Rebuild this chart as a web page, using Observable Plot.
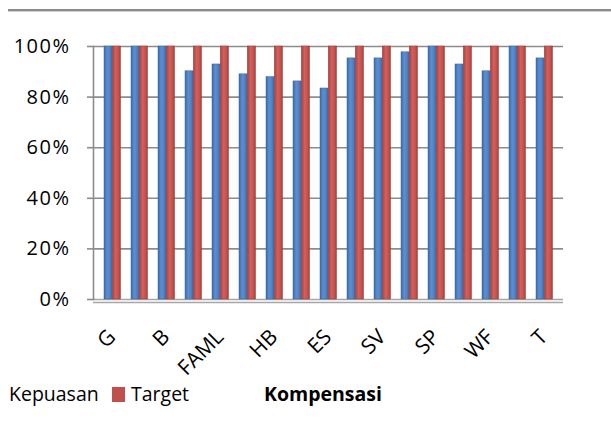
<!DOCTYPE html>
<html>
<head>
<meta charset="utf-8">
<script src="https://cdn.jsdelivr.net/npm/d3@7"></script>
<script src="https://cdn.jsdelivr.net/npm/@observablehq/plot@0.6"></script>
<style>
  html, body { margin: 0; padding: 0; background: #fff; }
  #wrap { position: relative; width: 611px; height: 428px; overflow: hidden; background: #fff; }
  #topline { position: absolute; left: 8px; top: 9px; width: 603px; height: 2px; background: #8a8a8a; border-bottom: 1px solid #d0d0d0; }
  #chart { position: absolute; left: 0; top: 0; }
  #legend { position: absolute; left: 0; top: 380px; width: 611px; height: 48px; font-family: "Open Sans", sans-serif; font-size: 19.5px; line-height: 20px; color: #000; }
  #legend span { position: absolute; top: 4px; white-space: nowrap; }
  #legend .sw { position: absolute; top: 7px; width: 13px; height: 15px; background: #C0504D; }
  .ytick text { letter-spacing: 1.5px; }
</style>
</head>
<body>
<div id="wrap">
  <div id="chart"></div>
  <div id="topline"></div>
  <div id="legend">
    <span style="left:9px">Kepuasan</span>
    <div class="sw" style="left:112px"></div>
    <span style="left:131px">Target</span>
    <span style="left:264px;font-weight:bold">Kompensasi</span>
  </div>
</div>
<script>
// Categories (only every other label is visible in the reference)
const categories = ["G", "(2)", "B", "(4)", "FAML", "(6)", "HB", "(8)", "ES", "(10)", "SV", "(12)", "SP", "(14)", "WF", "(16)", "T"];
const kepuasan = [1.00, 1.00, 1.00, 0.902, 0.929, 0.890, 0.879, 0.862, 0.834, 0.953, 0.953, 0.977, 1.00, 0.929, 0.902, 1.00, 0.953];
const target   = [1.00, 1.00, 1.00, 1.00, 1.00, 1.00, 1.00, 1.00, 1.00, 1.00, 1.00, 1.00, 1.00, 1.00, 1.00, 1.00, 1.00];
const yTicks = [0, 0.2, 0.4, 0.6, 0.8, 1.0];

const rows = categories.map((c, i) => ({category: c, Kepuasan: kepuasan[i], Target: target[i]}));

const gray = "#8c8c8c";

const svg = Plot.plot({
  width: 611,
  height: 380,
  marginTop: 46,
  marginBottom: 81,
  marginLeft: 93,
  marginRight: 48,
  style: {fontFamily: "'Open Sans', sans-serif", fontSize: "20px", background: "transparent", color: "#000"},
  x: {type: "band", domain: categories, range: [97, 557.7], padding: 0, axis: null},
  y: {domain: [0, 1], axis: null},
  marks: [
    Plot.ruleY(yTicks.slice(1), {stroke: gray, strokeWidth: 1.6}),
    Plot.ruleY([0], {stroke: "#a6a6a6", strokeWidth: 1.6}),
    Plot.ruleY([0], {stroke: "#a6a6a6", strokeWidth: 1.6, dy: 3}),
    Plot.barY(rows, {x: "category", y: "Kepuasan", fill: "url(#gBlue)", stroke: "#3b679e", strokeWidth: 0.5, insetLeft: 6, insetRight: 12.8}),
    Plot.barY(rows, {x: "category", y: "Target", fill: "url(#gRed)", stroke: "#9c3c3a", strokeWidth: 0.5, insetLeft: 14.3, insetRight: 4.5}),
    Plot.frame({anchor: "left", stroke: gray, strokeWidth: 1.6}),
    Plot.axisY({ticks: yTicks, tickFormat: d3.format(".0%"), tickSize: 6, tickPadding: 17, stroke: gray, strokeWidth: 1.6, fill: "#000", fontSize: 20, className: "ytick", label: null}),
    Plot.axisX({tickSize: 0, tickRotate: -45, tickPadding: 34, tickFormat: (d, i) => (i % 2 ? "" : d), fill: "#000", fontSize: 21, label: null})
  ]
});

const defs = d3.select(svg).insert("defs", ":first-child");
function grad(id, stops) {
  const g = defs.append("linearGradient").attr("id", id).attr("x1", "0").attr("x2", "1").attr("y1", "0").attr("y2", "0");
  stops.forEach(([o, c]) => g.append("stop").attr("offset", o).attr("stop-color", c));
}
grad("gBlue", [[0, "#3c6aa8"], [0.4, "#5c8fd2"], [0.75, "#4f80c0"], [1, "#3a66a0"]]);
grad("gRed", [[0, "#a8413e"], [0.4, "#d2605c"], [0.75, "#c4524f"], [1, "#a23d3a"]]);

document.getElementById("chart").appendChild(svg);
</script>
</body>
</html>
